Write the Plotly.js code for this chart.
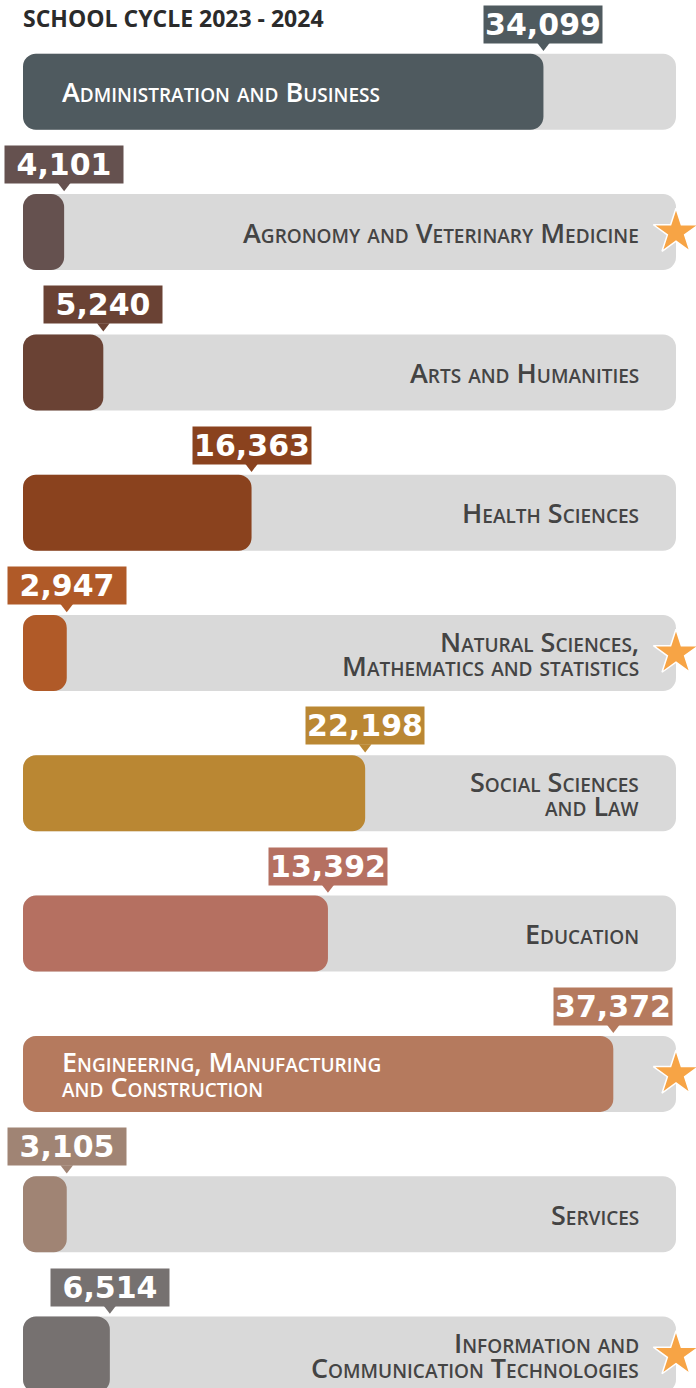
<!DOCTYPE html>
<html>
<head>
<meta charset="utf-8">
<script src="https://cdn.plot.ly/plotly-3.0.1.min.js"></script>
<style>html,body{margin:0;padding:0;background:#fff;}#chart{width:696px;height:1388px;}</style>
</head>
<body>
<div id="chart"></div>
<script>
// ---- data ----
const title = "SCHOOL CYCLE 2023 - 2024";
const categories = [
  "Administration and Business",
  "Agronomy and Veterinary Medicine",
  "Arts and Humanities",
  "Health Sciences",
  "Natural Sciences,\nMathematics and statistics",
  "Social Sciences\nand Law",
  "Education",
  "Engineering, Manufacturing\nand Construction",
  "Services",
  "Information and\nCommunication Technologies"
];
const values = [34099, 4101, 5240, 16363, 2947, 22198, 13392, 37372, 3105, 6514];
// bar length as drawn in the infographic (percent of the grey track) - not proportional to values
const barExtent = [79.7, 6.3, 12.3, 35.0, 6.7, 52.4, 46.7, 90.4, 6.7, 13.3];
const trackExtent = [100, 100, 100, 100, 100, 100, 100, 100, 100, 100];
const starred = [false, true, false, false, true, false, false, true, false, true];
const labelInside = [true, false, false, false, false, false, false, true, false, false];
const barColors = ["#4F5A5F", "#65514F", "#6A4234", "#8A421E", "#B05A28", "#BA8733", "#B57061", "#B57A5E", "#A08474", "#767170"];

// ---- styling ----
const TRACK = "#D9D9D9";
const STAR = "#F7A445";
const LABEL = "#444444";
const BARW = 0.5417;
const RAD = 13;
const idx = categories.map((_, i) => i);
const zeros = idx.map(() => 0);

const traces = [];
// grey track (explicit base -> all four corners rounded)
traces.push({type: "bar", orientation: "h", y: idx, x: trackExtent, base: zeros,
  width: BARW, marker: {color: TRACK, cornerradius: RAD}, hoverinfo: "skip"});
// value bars
traces.push({type: "bar", orientation: "h", y: idx, x: barExtent, base: zeros,
  width: BARW, marker: {color: barColors, cornerradius: RAD}, hoverinfo: "skip"});
// callout pointers
traces.push({type: "scatter", mode: "markers", x: barExtent, y: idx.map(i => i - 0.33),
  marker: {symbol: "triangle-down", size: 11, color: barColors, line: {width: 0}},
  cliponaxis: false, hoverinfo: "skip"});
// stars
const sIdx = idx.filter(i => starred[i]);
traces.push({type: "scatter", mode: "markers", x: sIdx.map(i => trackExtent[i]), y: sIdx,
  marker: {symbol: "star", size: 34, color: STAR, line: {color: "#ffffff", width: 1.5}},
  cliponaxis: false, hoverinfo: "skip"});

const annotations = [];
annotations.push({text: "<b>" + title + "</b>", xref: "paper", yref: "paper", x: 0, y: 1,
  xanchor: "left", yanchor: "top", xshift: -2, yshift: 0, showarrow: false,
  font: {family: "'Open Sans', sans-serif", size: 23, color: "#2B2B2B"}});

idx.forEach(i => {
  annotations.push({text: values[i].toLocaleString("en-US"), x: barExtent[i], y: i - 0.481,
    xref: "x", yref: "y", showarrow: false, xanchor: "center", yanchor: "middle",
    bgcolor: barColors[i], width: 118, height: 37, borderpad: 0,
    font: {family: "DejaVu Sans", size: 30, weight: 700, color: "#ffffff"}});
  const lines = categories[i].split("\n");
  lines.forEach((ln, k) => {
    const shift = lines.length === 1 ? 0 : (k === 0 ? 12 : -12.5);
    annotations.push({text: ln, x: labelInside[i] ? 0 : 100, y: i, xref: "x", yref: "y",
      xanchor: labelInside[i] ? "left" : "right", yanchor: "middle",
      xshift: labelInside[i] ? 38 : -36, yshift: shift, showarrow: false, borderpad: 0,
      font: {family: "'Open Sans', Lato, sans-serif", size: 27, weight: 600, variant: "small-caps",
             color: labelInside[i] ? "#ffffff" : LABEL}});
  });
});

const layout = {
  width: 696, height: 1388,
  margin: {l: 23, r: 20, t: 0, b: 0, pad: 0},
  paper_bgcolor: "#ffffff", plot_bgcolor: "#ffffff",
  barmode: "overlay", showlegend: false,
  xaxis: {range: [0, 100], visible: false, fixedrange: true},
  yaxis: {range: [9.2388, -0.6543], visible: false, fixedrange: true},
  annotations: annotations
};
Plotly.newPlot("chart", traces, layout, {displayModeBar: false, staticPlot: true});
</script>
</body>
</html>
